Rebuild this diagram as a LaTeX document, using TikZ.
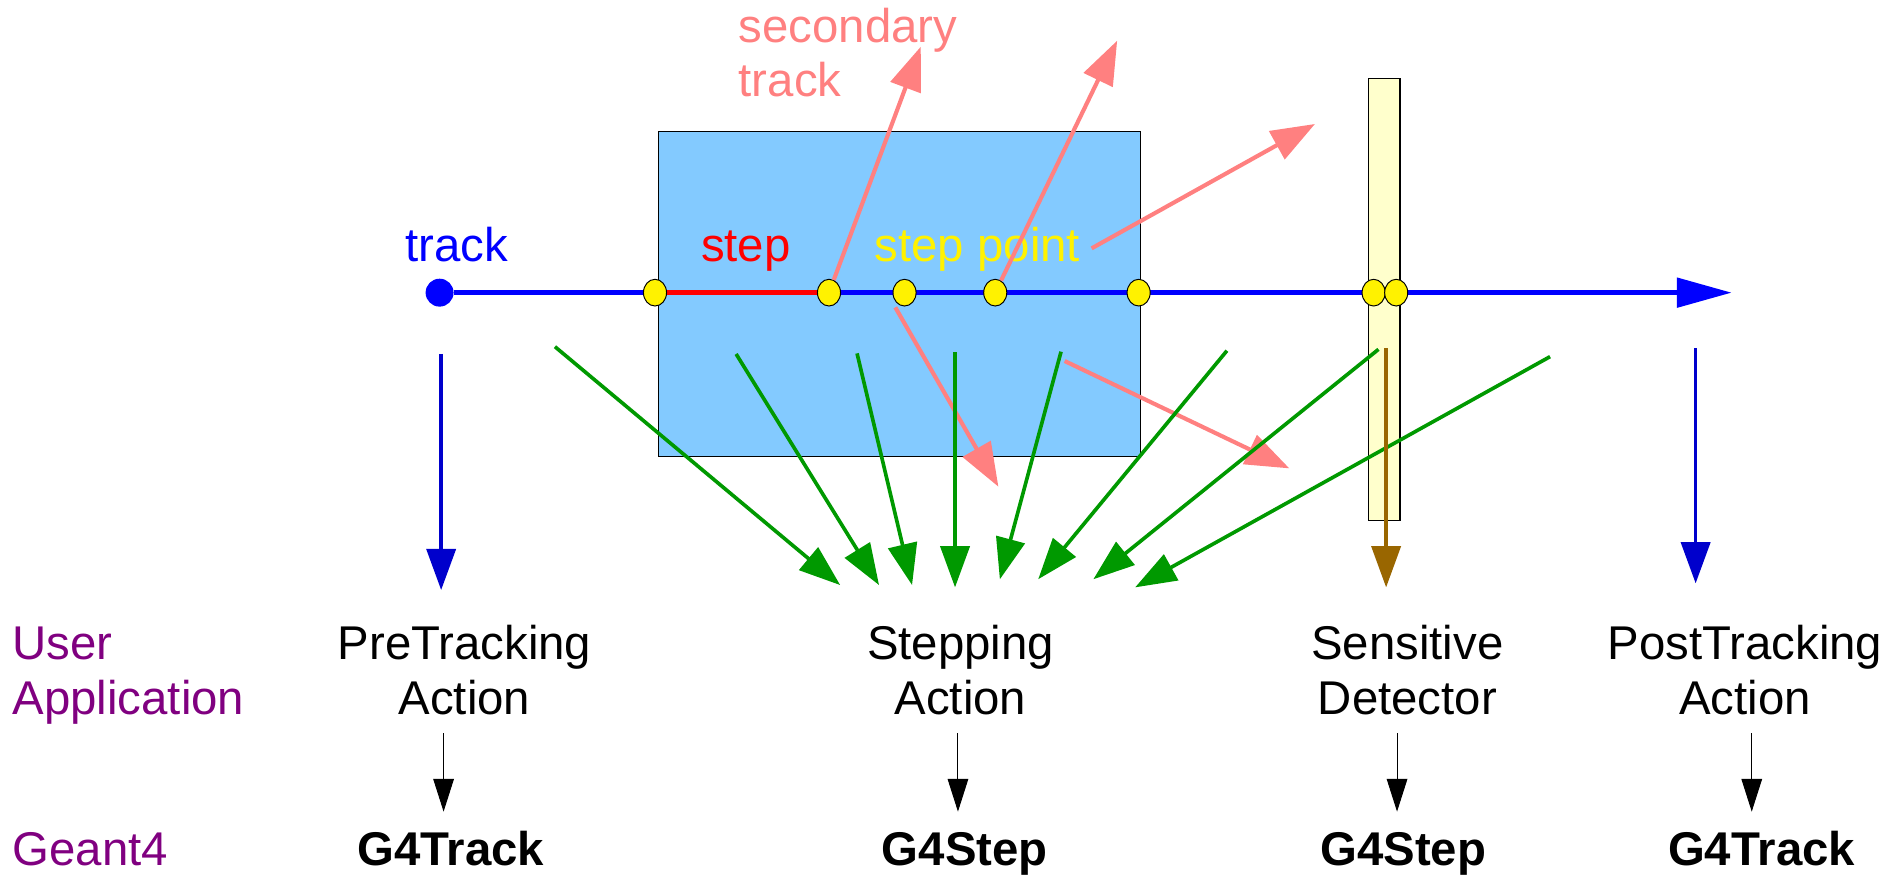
\documentclass[tikz,border=0pt]{standalone}
\usepackage{fontspec}
\setmainfont{Liberation Sans}
\usetikzlibrary{arrows.meta,shapes.geometric}
\definecolor{boxblue}{HTML}{83CAFF}
\definecolor{detyellow}{HTML}{FFFFCC}
\definecolor{pinkc}{HTML}{FF8080}
\definecolor{greenc}{HTML}{009900}
\definecolor{brownc}{HTML}{996600}
\definecolor{darkblue}{HTML}{0000CC}
\definecolor{purplec}{HTML}{800080}
\tikzset{
  lbl/.style={inner sep=0pt, font=\fontsize{19.5}{22.3}\selectfont},
  blbl/.style={lbl, font=\fontsize{19.5}{22.3}\selectfont\bfseries},
  stepdot/.style={ellipse, draw=black, line width=0.4pt, fill=yellow, minimum width=9.5pt, minimum height=11pt, inner sep=0pt},
  trackline/.style={draw=blue, line width=1.9pt},
  secarrow/.style={draw=pinkc, line width=1.7pt, -{Triangle[length=18pt,width=13pt]}},
  callarrow/.style={draw=greenc, line width=1.5pt, -{Triangle[length=17pt,width=12pt]}},
  sdarrow/.style={draw=brownc, line width=1.4pt, -{Triangle[length=17pt,width=12pt]}},
  trkarrow/.style={draw=darkblue, line width=1.5pt, -{Triangle[length=17pt,width=12pt]}},
  objarrow/.style={draw=black, line width=0.4pt, -{Triangle[length=13.5pt,width=8.5pt]}}
}
\begin{document}
\begin{tikzpicture}[x=0.5pt,y=-0.5pt]
\useasboundingbox (0,0) rectangle (1568,720);
% volumes
\draw[fill=boxblue, draw=black, line width=0.5pt] (542,108) rectangle (939,376);
\draw[fill=detyellow, draw=black, line width=0.5pt] (1127.3,64.5) rectangle (1152.9,428.8);
% coordinates
\coordinate (trackend) at (1426,241);
\node[circle, fill=blue, minimum size=11.5pt, inner sep=0pt] (start) at (362,241) {};
% main track
\draw[trackline, -{Triangle[length=22.5pt,width=12pt]}] (start) -- (trackend);
\draw[draw=red, line width=1.9pt] (539.4,241) -- (682.7,241);
% labels
\node[lbl, text=blue, anchor=base] (tracklbl) at (376,215) {track};
\node[lbl, text=red, anchor=base west] (steplbl) at (577,215) {step};
\node[lbl, text=yellow, anchor=base west] (splbl) at (720,215) {step point};
\node[lbl, text=pinkc, anchor=base west, align=left] (seclbl) at (608,79.6) {secondary\\track};
% step points
\node[stepdot] (p1) at (539.4,241) {};
\node[stepdot] (p2) at (682.7,241) {};
\node[stepdot] (p3) at (744.9,241) {};
\node[stepdot] (p4) at (819.6,241) {};
\node[stepdot] (p5) at (937.7,241) {};
\node[stepdot] (p6) at (1131.2,241) {};
\node[stepdot] (p7) at (1149.8,241) {};
% secondary tracks
\coordinate (s1) at (758.3,38.4);
\coordinate (s2) at (920,33.5);
\coordinate (s3a) at (899,204.5);
\coordinate (s3) at (1082.9,102.1);
\coordinate (s4a) at (737.3,253.1);
\coordinate (s4) at (822.2,400.8);
\coordinate (s5a) at (876.8,297.3);
\coordinate (s5) at (1061.8,385.7);
\draw[secarrow] (p2) -- (s1);
\draw[secarrow] (p4) -- (s2);
\draw[secarrow] (s3a) -- (s3);
\draw[secarrow] (s4a) -- (s4);
\draw[secarrow] (s5a) -- (s5);
% stepping action calls
\coordinate (g1a) at (457,285.5);   \coordinate (g1) at (691.9,481.8);
\coordinate (g2a) at (606.2,291.5); \coordinate (g2) at (723.9,481.8);
\coordinate (g3a) at (705.8,291);   \coordinate (g3) at (751.1,481.8);
\coordinate (g4a) at (786.5,290.2); \coordinate (g4) at (786.5,483.7);
\coordinate (g5a) at (873.8,289.6); \coordinate (g5) at (823.4,477.1);
\coordinate (g6a) at (1010.4,288.8);\coordinate (g6) at (855,477);
\coordinate (g7a) at (1135.2,287.7);\coordinate (g7) at (900.4,477);
\coordinate (g8a) at (1276.5,293.7);\coordinate (g8) at (934.8,483.7);
\foreach \i in {1,...,8} { \draw[callarrow] (g\i a) -- (g\i); }
% sensitive detector call
\coordinate (sda) at (1141.5,286.9); \coordinate (sdb) at (1141.5,483.7);
\draw[sdarrow] (sda) -- (sdb);
% tracking action calls
\coordinate (pta) at (363.3,291.5); \coordinate (ptb) at (363.3,485.9);
\coordinate (qta) at (1396.4,286.9); \coordinate (qtb) at (1396.4,480.4);
\draw[trkarrow] (pta) -- (ptb);
\draw[trkarrow] (qta) -- (qtb);
% bottom labels
\node[lbl, text=purplec, anchor=base west, align=left] (user) at (10,588) {User\\Application};
\node[lbl, anchor=base, align=center] (pre) at (382.5,588) {PreTracking\\Action};
\node[lbl, anchor=base, align=center] (stp) at (791,588) {Stepping\\Action};
\node[lbl, anchor=base, align=center] (sd) at (1159,588) {Sensitive\\Detector};
\node[lbl, anchor=base, align=center] (post) at (1437,588) {PostTracking\\Action};
\node[lbl, text=purplec, anchor=base west] (g4) at (10,712.5) {Geant4};
\node[blbl, anchor=base] (o1) at (371.3,712.5) {G4Track};
\node[blbl, anchor=base] (o2) at (794.5,712.5) {G4Step};
\node[blbl, anchor=base] (o3) at (1155.6,712.5) {G4Step};
\node[blbl, anchor=base] (o4) at (1450.7,712.5) {G4Track};
% object arrows
\coordinate (b1a) at (365.3,603.9); \coordinate (b1) at (365.3,668.4);
\coordinate (b2a) at (788.9,603.9); \coordinate (b2) at (788.9,668.4);
\coordinate (b3a) at (1150.5,603.9); \coordinate (b3) at (1150.5,668.4);
\coordinate (b4a) at (1442.6,603.9); \coordinate (b4) at (1442.6,668.4);
\foreach \i in {1,...,4} { \draw[objarrow] (b\i a) -- (b\i); }
\end{tikzpicture}
\end{document}
